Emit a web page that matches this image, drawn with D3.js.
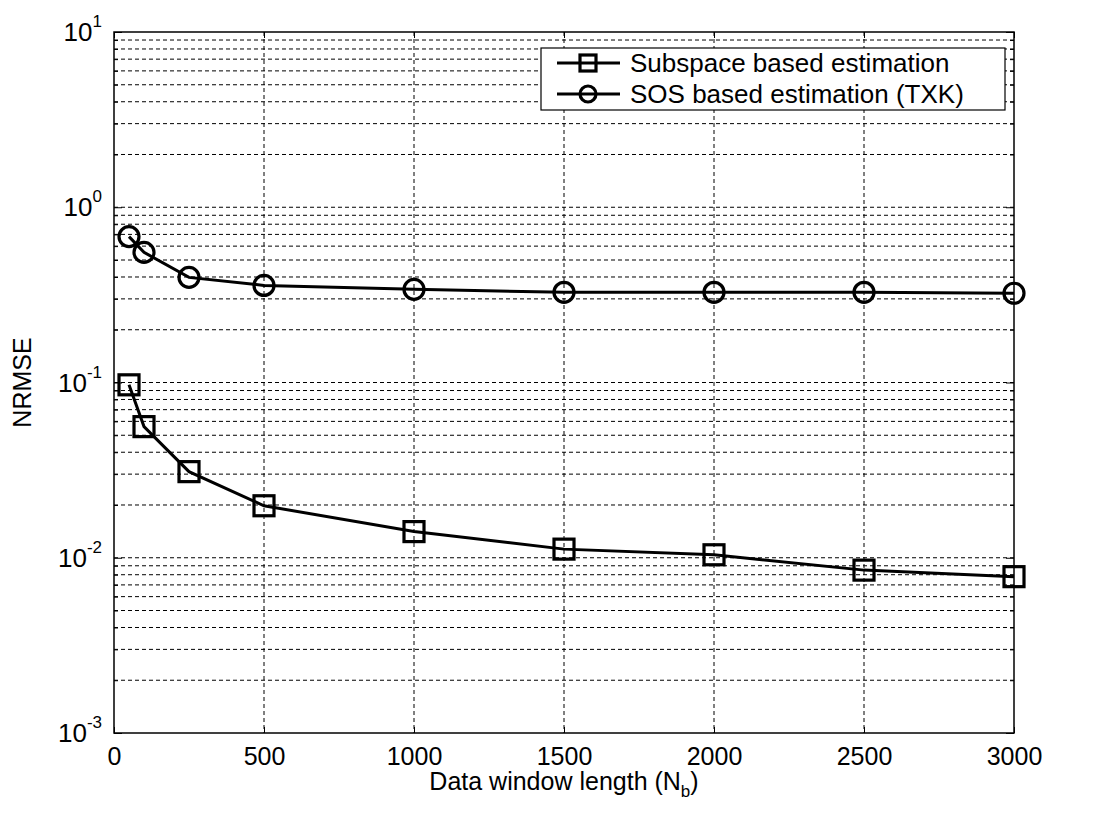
<!DOCTYPE html>
<html><head><meta charset="utf-8">
<script src="https://cdn.jsdelivr.net/npm/d3@7"></script>
<style>body{margin:0;background:#fff}svg{display:block}text{font-family:"Liberation Sans",Arial,sans-serif;fill:#000}</style>
</head><body>
<script>
const xValues = [50, 100, 250, 500, 1000, 1500, 2000, 2500, 3000];
const subspace = [0.097, 0.056, 0.031, 0.0198, 0.0141, 0.0112, 0.0104, 0.0085, 0.0078];
const sos = [0.68, 0.553, 0.398, 0.358, 0.34, 0.327, 0.327, 0.327, 0.323];
const xTicks = [0, 500, 1000, 1500, 2000, 2500, 3000];
const yDecades = [-3, -2, -1, 0, 1];
const seriesNames = ["Subspace based estimation", "SOS based estimation (TXK)"];

const W = 1103, H = 813;
const m = {l:114, t:32, r:1014, b:733};
const FS = 25;
const svg = d3.select("body").append("svg").attr("width", W).attr("height", H);
const x = d3.scaleLinear().domain([0, 3000]).range([m.l, m.r]);
const y = d3.scaleLog().domain([1e-3, 10]).range([m.b, m.t]);
const isDecade = d => Math.abs(Math.log10(d) - Math.round(Math.log10(d))) < 1e-6;

const g = svg.append("g");
const minor = [];
for (let d = -3; d < 1; d++) for (let k = 1; k <= 9; k++) minor.push(k * Math.pow(10, d));
minor.push(10);
g.selectAll(".hg").data(minor.filter(v => v > 1e-3 && v < 10)).enter().append("line")
  .attr("x1", m.l).attr("x2", m.r).attr("y1", d => y(d)).attr("y2", d => y(d))
  .attr("stroke", "#000").attr("stroke-width", 1).attr("stroke-dasharray", "4,3");
g.selectAll(".vg").data(xTicks.slice(1, -1)).enter().append("line")
  .attr("x1", d => x(d)).attr("x2", d => x(d)).attr("y1", m.t).attr("y2", m.b)
  .attr("stroke", "#000").attr("stroke-width", 1).attr("stroke-dasharray", "4,3");

const xAxis = d3.axisBottom(x).tickValues(xTicks).tickSizeInner(-6).tickSizeOuter(0).tickPadding(14).tickFormat(d3.format("d"));
const gx = svg.append("g").attr("transform", `translate(0,${m.b})`).call(xAxis);
gx.selectAll("text").attr("font-size", FS);
gx.select(".domain").remove();
const gxt = svg.append("g").attr("transform", `translate(0,${m.t})`).call(d3.axisTop(x).tickValues(xTicks).tickSizeInner(-6).tickSizeOuter(0).tickFormat(""));
gxt.select(".domain").remove();

const gy = svg.append("g").attr("transform", `translate(${m.l},0)`).call(d3.axisLeft(y).tickValues(minor).tickSizeOuter(0).tickFormat(""));
gy.select(".domain").remove();
gy.selectAll(".tick line").attr("x2", d => isDecade(d) ? 8 : 4);
const gyr = svg.append("g").attr("transform", `translate(${m.r},0)`).call(d3.axisRight(y).tickValues(minor).tickSizeOuter(0).tickFormat(""));
gyr.select(".domain").remove();
gyr.selectAll(".tick line").attr("x2", d => isDecade(d) ? -8 : -4);

const yl = svg.append("g");
yDecades.forEach(dk => {
  const t = yl.append("text").attr("x", 0).attr("y", y(Math.pow(10, dk)) + 9).attr("font-size", FS + 1);
  t.append("tspan").text("10");
  t.append("tspan").attr("dy", -14).attr("font-size", 17).text(String(dk));
});
yl.selectAll("text").each(function(){
  const bb = this.getBBox();
  d3.select(this).attr("x", m.l - 12 - bb.width);
});

svg.append("rect").attr("x", m.l).attr("y", m.t).attr("width", m.r - m.l).attr("height", m.b - m.t)
  .attr("fill", "none").attr("stroke", "#000").attr("stroke-width", 1.5);

svg.append("text").attr("x", (m.l + m.r) / 2).attr("y", 790).attr("text-anchor", "middle").attr("font-size", FS)
  .call(t => { t.append("tspan").text("Data window length (N"); t.append("tspan").attr("dy", 7).attr("font-size", 17).text("b"); t.append("tspan").attr("dy", -7).text(")"); });
svg.append("text").attr("transform", `translate(31,${(m.t + m.b) / 2}) rotate(-90)`).attr("text-anchor", "middle")
  .attr("font-size", FS).text("NRMSE");

const line = d3.line().x(d => x(d[0])).y(d => y(d[1]));
const sData = xValues.map((v, i) => [v, subspace[i]]);
const cData = xValues.map((v, i) => [v, sos[i]]);
svg.append("path").datum(sData).attr("d", line).attr("fill", "none").attr("stroke", "#000").attr("stroke-width", 3);
svg.append("path").datum(cData).attr("d", line).attr("fill", "none").attr("stroke", "#000").attr("stroke-width", 3);
svg.selectAll(".sq").data(sData).enter().append("rect")
  .attr("x", d => x(d[0]) - 10).attr("y", d => y(d[1]) - 10).attr("width", 20).attr("height", 20)
  .attr("fill", "none").attr("stroke", "#000").attr("stroke-width", 3.2);
svg.selectAll(".ci").data(cData).enter().append("circle")
  .attr("cx", d => x(d[0])).attr("cy", d => y(d[1])).attr("r", 10)
  .attr("fill", "none").attr("stroke", "#000").attr("stroke-width", 3.2);

const lg = svg.append("g");
lg.append("rect").attr("x", 541).attr("y", 48).attr("width", 464).attr("height", 62)
  .attr("fill", "#fff").attr("stroke", "#000").attr("stroke-width", 1.2);
seriesNames.forEach((n, i) => {
  const yy = 63 + i * 31;
  lg.append("line").attr("x1", 557).attr("x2", 620).attr("y1", yy).attr("y2", yy).attr("stroke", "#000").attr("stroke-width", 3.2);
  if (i === 0) lg.append("rect").attr("x", 580).attr("y", yy - 8).attr("width", 16).attr("height", 16).attr("fill", "none").attr("stroke", "#000").attr("stroke-width", 3.2);
  else lg.append("circle").attr("cx", 588).attr("cy", yy).attr("r", 8).attr("fill", "none").attr("stroke", "#000").attr("stroke-width", 3.2);
  lg.append("text").attr("x", 630).attr("y", yy + 9).attr("font-size", FS + 1).text(n);
});
</script>
</body></html>
